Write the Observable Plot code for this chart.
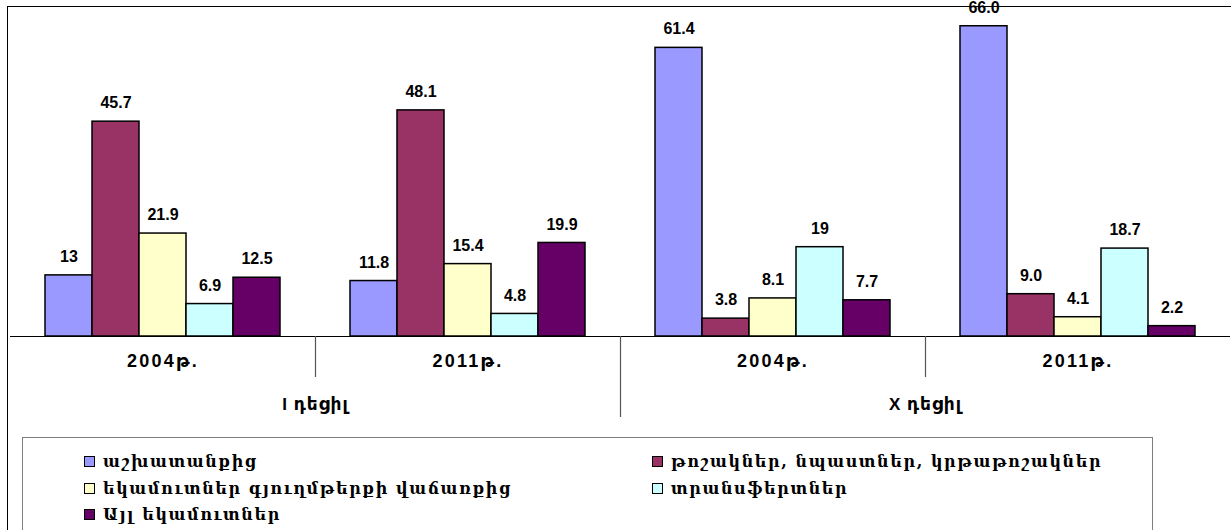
<!DOCTYPE html>
<html>
<head>
<meta charset="utf-8">
<script src="https://cdn.jsdelivr.net/npm/d3@7"></script>
<script src="https://cdn.jsdelivr.net/npm/@observablehq/plot@0.6"></script>
<style>
  html, body { margin: 0; padding: 0; background: #fff; overflow: hidden; }
  #wrap { position: relative; width: 1231px; height: 530px; overflow: hidden; }
  #chart { position: absolute; left: 0; top: 0; }
  #chart g[font-size="18"] text { letter-spacing: 2.2px; }
  #chart g[font-size="17"] text { letter-spacing: 1px; }
  #outer { position: absolute; left: 7px; top: 6px; width: 1240px; height: 540px; border-left: 1px solid #000; border-top: 1px solid #000; box-sizing: border-box; pointer-events: none; }
  #legend { position: absolute; left: 22px; top: 437px; width: 1131px; height: 120px; border: 1px solid #7f7f7f; box-sizing: border-box; background: #fff; }
  .item { position: absolute; display: flex; align-items: center; font-family: "DejaVu Serif", serif; font-weight: bold; font-size: 16px; letter-spacing: 1.6px; color: #000; white-space: nowrap; }
  .sw { width: 9px; height: 9px; border: 1px solid #000; margin-right: 8px; flex: none; }
</style>
</head>
<body>
<div id="wrap">
  <div id="chart"></div>
  <div id="outer"></div>
  <div id="legend"></div>
</div>
<script>
// ---- data ----
const categories = ["I-2004", "I-2011", "X-2004", "X-2011"];
const yearLabels = ["2004թ.", "2011թ.", "2004թ.", "2011թ."];
const groupLabels = ["I դեցիլ", "X դեցիլ"];
const groupStart = ["I-2004", "X-2004"];
const groupEnd = ["I-2011", "X-2011"];

const seriesNames = [
  "աշխատանքից",
  "թոշակներ, նպաստներ, կրթաթոշակներ",
  "եկամուտներ գյուղմթերքի վաճառքից",
  "տրանսֆերտներ",
  "Այլ եկամուտներ"
];
const seriesColors = ["#9999FF", "#993366", "#FFFFCC", "#CCFFFF", "#660066"];

const workValues      = [13, 11.8, 61.4, 66.0];
const pensionValues   = [45.7, 48.1, 3.8, 9.0];
const agriValues      = [21.9, 15.4, 8.1, 4.1];
const transferValues  = [6.9, 4.8, 19, 18.7];
const otherValues     = [12.5, 19.9, 7.7, 2.2];

const workLabels      = ["13", "11.8", "61.4", "66.0"];
const pensionLabels   = ["45.7", "48.1", "3.8", "9.0"];
const agriLabels      = ["21.9", "15.4", "8.1", "4.1"];
const transferLabels  = ["6.9", "4.8", "19", "18.7"];
const otherLabels     = ["12.5", "19.9", "7.7", "2.2"];

// ---- build table ----
const seriesValues = [workValues, pensionValues, agriValues, transferValues, otherValues];
const seriesLabels = [workLabels, pensionLabels, agriLabels, transferLabels, otherLabels];
const rows = [];
categories.forEach((c, ci) => {
  seriesNames.forEach((s, si) => {
    rows.push({cat: c, series: s, value: seriesValues[si][ci], label: seriesLabels[si][ci]});
  });
});

const W = 1231, H = 430;
const labelFont = '"Liberation Sans", Arial, "DejaVu Sans", sans-serif';

const chart = Plot.plot({
  width: W,
  height: H,
  marginLeft: 8,
  marginRight: 0,
  marginTop: 6,
  marginBottom: 94,
  style: {background: "transparent", overflow: "visible"},
  fx: {domain: categories, padding: 0, axis: null, label: null},
  x: {domain: seriesNames, paddingInner: 0, paddingOuter: 0.72, axis: null, label: null},
  y: {domain: [0, 70.2], axis: null, label: null},
  color: {domain: seriesNames, range: seriesColors},
  marks: [
    Plot.barY(rows, {fx: "cat", x: "series", y: "value", fill: "series", stroke: "#000", strokeWidth: 1.5}),
    Plot.text(rows, {fx: "cat", x: "series", y: "value", text: "label", dy: -18.5,
      fontFamily: labelFont, fontWeight: "bold", fontSize: 16, fill: "#000"}),
    Plot.ruleY([0], {stroke: "#000", strokeWidth: 1}),
    Plot.text(categories, {fx: d => d, text: (d, i) => yearLabels[i], frameAnchor: "bottom", dy: 30,
      fontFamily: labelFont, fontWeight: "bold", fontSize: 18, fill: "#000"}),
    Plot.text(groupLabels, {fx: (d, i) => groupEnd[i], text: d => d, frameAnchor: "bottom-left", textAnchor: "middle", dy: 73,
      fontFamily: labelFont, fontWeight: "bold", fontSize: 17, fill: "#000"})
  ]
});
document.getElementById("chart").appendChild(chart);

// separators between categories, positioned with the plot's fx scale
(function () {
  const fxs = chart.scale("fx");
  const ys = chart.scale("y");
  let fxf;
  if (fxs && typeof fxs.apply === "function") fxf = fxs.apply;
  else {
    const b = d3.scaleBand(fxs.domain, fxs.range).paddingInner(fxs.paddingInner || 0).paddingOuter(fxs.paddingOuter || 0).align(fxs.align == null ? 0.5 : fxs.align);
    fxf = b;
  }
  const y0 = ys && typeof ys.apply === "function" ? ys.apply(0) : ys.range[0];
  const svg = d3.select(chart);
  const g = svg.append("g").attr("stroke", "#555").attr("stroke-width", 1.2);
  categories.forEach((c, i) => {
    if (i === 0) return;
    const x = Math.round(fxf(c)) + 0.5;
    const long = groupStart.includes(c);
    g.append("line").attr("x1", x).attr("x2", x).attr("y1", y0).attr("y2", y0 + (long ? 81 : 41));
  });
})();

// legend
const legend = document.getElementById("legend");
const colX = [61, 629];
const rowY = [14, 41, 67];
seriesNames.forEach((s, i) => {
  const el = document.createElement("div");
  el.className = "item";
  el.style.left = colX[i % 2] + "px";
  el.style.top = rowY[Math.floor(i / 2)] + "px";
  const sw = document.createElement("span");
  sw.className = "sw";
  sw.style.background = seriesColors[i];
  const t = document.createElement("span");
  t.textContent = s;
  el.appendChild(sw);
  el.appendChild(t);
  legend.appendChild(el);
});
</script>
</body>
</html>
